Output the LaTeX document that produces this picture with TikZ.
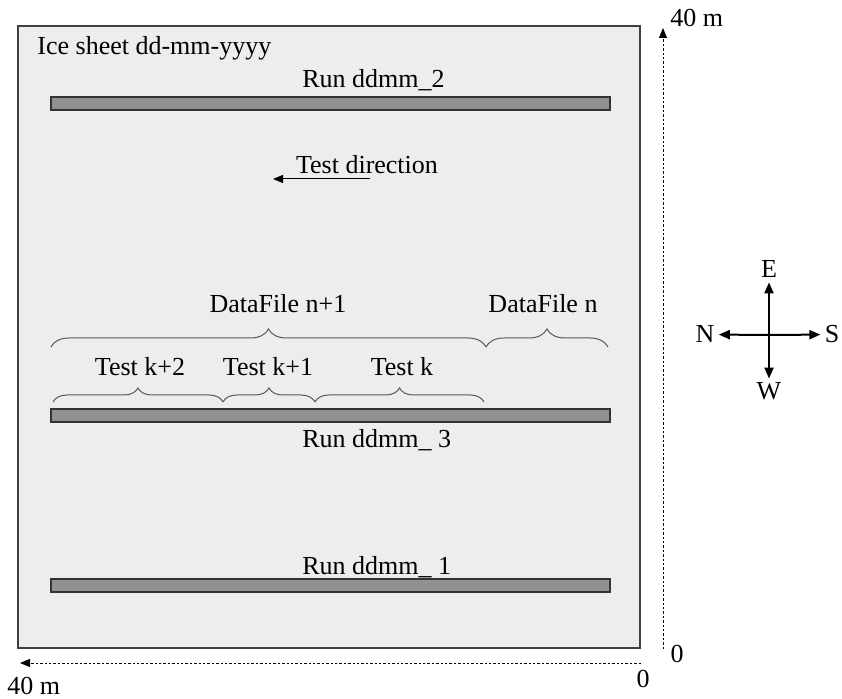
\documentclass[tikz,border=0pt]{standalone}
\usepackage{fontspec}
\setmainfont{Liberation Serif}
\usetikzlibrary{arrows.meta, decorations.pathreplacing}

\begin{document}
\begin{tikzpicture}[x=0.5pt, y=-0.5pt, font=\fontsize{13}{15}\selectfont,
    lbl/.style={anchor=base, inner sep=0pt},
    runbar/.style={draw=black!80, fill=black!43, line width=0.8pt},
    brc/.style={draw=black!65, line width=0.5pt, decorate, decoration={brace, amplitude=#1}},
    axis/.style={line width=0.4pt, dash pattern=on 1.2pt off 1pt, -{Triangle[length=5pt, width=4pt]}},
    compass/.style={line width=1pt, -{Triangle[length=5.5pt, width=4.5pt]}},
    dir/.style={line width=0.5pt, -{Triangle[length=5pt, width=4pt]}}]
  \useasboundingbox (0,0) rectangle (842,699);

  % ice sheet
  \draw[draw=black!75, fill=black!7, line width=0.8pt] (18,26) rectangle (640,648);
  \node[lbl, anchor=base west] (sheet) at (37,55) {Ice sheet dd-mm-yyyy};

  % runs
  \draw[runbar] (51,97) rectangle (610,110);
  \draw[runbar] (51,409) rectangle (610,422);
  \draw[runbar] (51,579) rectangle (610,592);
  \node[lbl, anchor=base west] (run2) at (302,88) {Run ddmm\_2};
  \node[lbl, anchor=base west] (run3) at (302,448) {Run ddmm\_ 3};
  \node[lbl, anchor=base west] (run1) at (302,575) {Run ddmm\_ 1};

  % test direction
  \node[lbl] (dirlbl) at (367,174) {Test direction};
  \coordinate (dirA) at (370,179);
  \coordinate (dirB) at (273,179);
  \draw[dir] (dirA) -- (dirB);

  % data files
  \coordinate (d0) at (51,347);
  \coordinate (d1) at (486,347);
  \coordinate (d2) at (608,347);
  \draw[brc=9pt] (d0) -- (d1);
  \draw[brc=9pt] (d1) -- (d2);
  \node[lbl] (file1) at (278,313) {DataFile n+1};
  \node[lbl] (file0) at (543,313) {DataFile n};

  % tests
  \coordinate (t0) at (53,402);
  \coordinate (t1) at (223,402);
  \coordinate (t2) at (315,402);
  \coordinate (t3) at (484,402);
  \draw[brc=7pt] (t0) -- (t1);
  \draw[brc=7pt] (t1) -- (t2);
  \draw[brc=7pt] (t2) -- (t3);
  \node[lbl] (test2) at (140,376) {Test k+2};
  \node[lbl] (test1) at (268,376) {Test k+1};
  \node[lbl] (test0) at (402,376) {Test k};

  % axes
  \coordinate (yo) at (663,649);
  \coordinate (ye) at (663,28);
  \coordinate (xo) at (641,663);
  \coordinate (xe) at (20,663);
  \draw[axis] (yo) -- (ye);
  \draw[axis] (xo) -- (xe);
  \node[lbl, anchor=base west] (ymax) at (670,27) {40 m};
  \node[lbl] (yzero) at (677,663) {0};
  \node[lbl] (xzero) at (643,688) {0};
  \node[lbl, anchor=base west] (xmax) at (7,695) {40 m};

  % compass
  \coordinate (c) at (769,335);
  \node[lbl, inner sep=2pt] (E) at (769,278) {E};
  \node[lbl, inner sep=2pt] (W) at (769,400) {W};
  \node[lbl, inner sep=2pt] (N) at (705,343) {N};
  \node[lbl, inner sep=2pt] (S) at (832,343) {S};
  \draw[compass] (c) -- (E);
  \draw[compass] (c) -- (W);
  \draw[compass] (c) -- (N);
  \draw[compass] (c) -- (S);
\end{tikzpicture}
\end{document}
